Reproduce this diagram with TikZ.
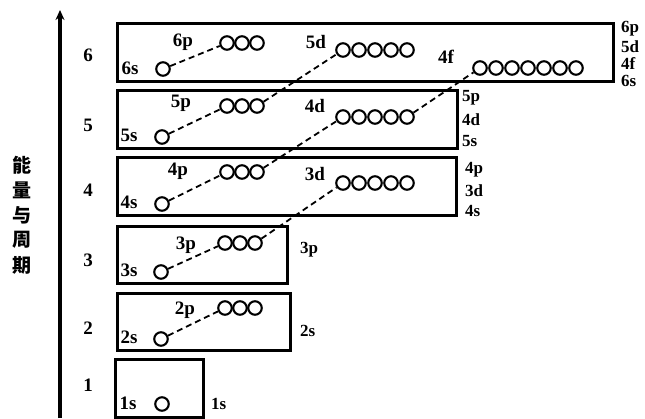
\documentclass[tikz,border=0pt]{standalone}
\usepackage{fontspec}
\setmainfont{Liberation Serif}
\newfontfamily\cjk{Noto Sans CJK SC}
\usetikzlibrary{arrows.meta}

% une rangée d'orbitales : nom, x, y, nombre, pas
\newcommand\rangee[5]{%
  \foreach \k in {1,...,#4}
    \node[orb] (#1\k) at ({#2+#5*(\k-1)},#3) {};}

\begin{document}
\begin{tikzpicture}[x=1pt, y=-1pt, font=\bfseries\fontsize{19}{20}\selectfont,
  orb/.style={circle, draw, line width=2.1pt, minimum size=13.5pt, inner sep=0pt},
  boite/.style={line width=3pt},
  lien/.style={line width=1.8pt, dash pattern=on 6pt off 4pt},
  droite/.style={font=\bfseries\fontsize{17}{17}\selectfont, anchor=west, inner sep=0pt}]

\useasboundingbox (0,0) rectangle (645,418);

% --- Axe de l'énergie ---
\coordinate (bas) at (60,418);
\coordinate (haut) at (60,10);
\draw[line width=3.4pt, -{Stealth[length=10pt,width=9pt]}] (bas) -- (haut);

% --- Étiquette verticale ---
\foreach \c [count=\i] in {能,量,与,周,期}
  \node (cjk\i) at (22,140+25*\i) {\cjk\bfseries\fontsize{19}{19}\selectfont\c};

% --- Numéros des périodes ---
\foreach \n/\y in {6/55,5/125,4/190,3/260,2/328,1/385}
  \node (per\n) at (88,\y) {\n};

% --- Cadres des périodes ---
\draw[boite] (117,23) rectangle (613,81);
\draw[boite] (117,90) rectangle (457,148);
\draw[boite] (117,157) rectangle (456,215);
\draw[boite] (117,226) rectangle (287,283);
\draw[boite] (117,293) rectangle (290,350);
\draw[boite] (115,359) rectangle (203,417);

% --- Période 6 ---
\node (l6s) at (130,68) {6s};
\node[orb] (o6s) at (163,69) {};
\node (l6p) at (183,42) {6p};
\rangee{o6p}{227}{43}{3}{15}
\node (l5d) at (316,42) {5d};
\rangee{o5d}{343}{50}{5}{16}
\node (l4f) at (446,57) {4f};
\rangee{o4f}{480}{68}{7}{16}

% --- Période 5 ---
\node (l5s) at (129,135) {5s};
\node[orb] (o5s) at (162,137) {};
\node (l5p) at (181,103) {5p};
\rangee{o5p}{227}{106}{3}{15}
\node (l4d) at (315,106) {4d};
\rangee{o4d}{343}{117}{5}{16}

% --- Période 4 ---
\node (l4s) at (129,202) {4s};
\node[orb] (o4s) at (162,204) {};
\node (l4p) at (178,171) {4p};
\rangee{o4p}{227}{172}{3}{15}
\node (l3d) at (315,174) {3d};
\rangee{o3d}{343}{183}{5}{16}

% --- Période 3 ---
\node (l3s) at (129,270) {3s};
\node[orb] (o3s) at (161,272) {};
\node (l3p) at (186,245) {3p};
\rangee{o3p}{225}{243}{3}{15}

% --- Période 2 ---
\node (l2s) at (129,337) {2s};
\node[orb] (o2s) at (161,339) {};
\node (l2p) at (185,310) {2p};
\rangee{o2p}{225}{308}{3}{15}

% --- Période 1 ---
\node (l1s) at (128,403) {1s};
\node[orb] (o1s) at (162,404) {};

% --- Liens en tirets ---
\draw[lien] (o6s) -- (o6p1);
\draw[lien] (o5s) -- (o5p1);
\draw[lien] (o4s) -- (o4p1);
\draw[lien] (o3s) -- (o3p1);
\draw[lien] (o2s) -- (o2p1);
\draw[lien] (o5p3) -- (o5d1);
\draw[lien] (o4p3) -- (o4d1);
\draw[lien] (o3p3) -- (o3d1);
\draw[lien] (o4d5) -- (o4f1);

% --- Étiquettes à droite ---
\node[droite] (r6p) at (621,29) {6p};
\node[droite] (r5d) at (621,47) {5d};
\node[droite] (r4f) at (621,64) {4f};
\node[droite] (r6s) at (621,81) {6s};
\node[droite] (r5p) at (462,98) {5p};
\node[droite] (r4d) at (462,120) {4d};
\node[droite] (r5s) at (462,141) {5s};
\node[droite] (r4p) at (465,170) {4p};
\node[droite] (r3d) at (465,191) {3d};
\node[droite] (r4s) at (465,211) {4s};
\node[droite] (r3p) at (300,250) {3p};
\node[droite] (r2s) at (300,331) {2s};
\node[droite] (r1s) at (211,404) {1s};

\end{tikzpicture}
\end{document}
